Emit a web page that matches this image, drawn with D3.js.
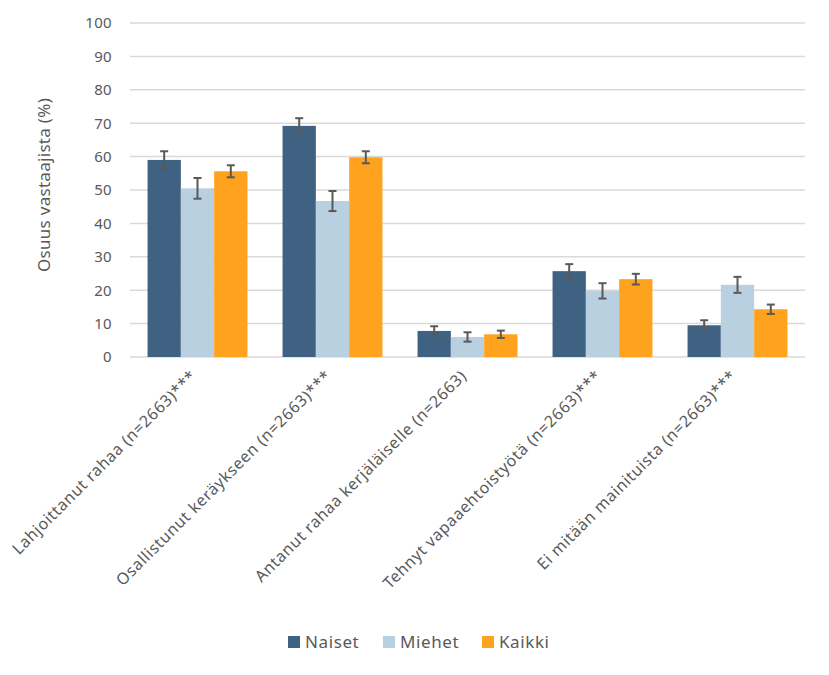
<!DOCTYPE html>
<html><head><meta charset="utf-8">
<script src="https://cdn.jsdelivr.net/npm/d3@7"></script>
<style>body{margin:0;background:#fff;} text{font-family:"Noto Sans",sans-serif;fill:#595959;}</style>
</head><body><svg id="c" width="829" height="675"></svg>
<script>
const categories = ["Lahjoittanut rahaa (n=2663)***","Osallistunut keräykseen (n=2663)***","Antanut rahaa kerjäläiselle (n=2663)","Tehnyt vapaaehtoistyötä (n=2663)***","Ei mitään mainituista (n=2663)***"];
const seriesNames = ["Naiset","Miehet","Kaikki"];
const naiset = [59.0, 69.2, 7.8, 25.7, 9.5];
const miehet = [50.5, 46.7, 6.0, 19.8, 21.6];
const kaikki = [55.6, 59.8, 6.8, 23.3, 14.3];
const naisetErr = [2.6, 2.3, 1.4, 2.1, 1.5];
const miehetErr = [3.1, 3.0, 1.4, 2.3, 2.4];
const kaikkiErr = [1.8, 1.8, 1.1, 1.6, 1.4];
const yTicks = [0,10,20,30,40,50,60,70,80,90,100];
const colors = ["#3F6182","#B8D0E0","#FFA31F"];

const values = [naiset, miehet, kaikki];
const errs = [naisetErr, miehetErr, kaikkiErr];
const svg = d3.select("#c");
const m = {l:130, r:24, t:23, b:318};
const W = 829, H = 675;
const x0 = d3.scaleBand().domain(categories).range([m.l, W-m.r]).paddingInner(0.26).paddingOuter(0.13);
const x1 = d3.scaleBand().domain(seriesNames).range([0, x0.bandwidth()]);
const y = d3.scaleLinear().domain([0,100]).range([H-m.b, m.t]);

const g = svg.append("g");
g.selectAll("line.grid").data(yTicks).join("line")
  .attr("x1", m.l).attr("x2", W-m.r)
  .attr("y1", d=>y(d)).attr("y2", d=>y(d))
  .attr("stroke","#d9d9d9").attr("stroke-width",1.5);

const yAxis = d3.axisLeft(y).tickValues(yTicks).tickSize(0).tickPadding(18);
const ya = svg.append("g").attr("transform",`translate(${m.l},0)`).call(yAxis);
ya.select(".domain").remove();
ya.selectAll("text").style("font-size","15px").style("letter-spacing","0.3px").attr("fill","#595959").style("font-family","'Noto Sans',sans-serif");

svg.append("text").attr("transform",`translate(50,${(y(0)+y(100))/2-5}) rotate(-90)`)
  .attr("text-anchor","middle").style("font-size","17px").style("letter-spacing","0.3px").text("Osuus vastaajista (%)");

seriesNames.forEach((s,si)=>{
  const gg = svg.append("g");
  gg.selectAll("rect").data(categories).join("rect")
    .attr("x", c=>x0(c)+x1(s)).attr("width", x1.bandwidth())
    .attr("y", (c,i)=>y(values[si][i])).attr("height",(c,i)=>y(0)-y(values[si][i]))
    .attr("fill", colors[si]);
});
seriesNames.forEach((s,si)=>{
  categories.forEach((c,i)=>{
    const cx = x0(c)+x1(s)+x1.bandwidth()/2;
    const hi = y(values[si][i]+errs[si][i]), lo = y(values[si][i]-errs[si][i]);
    const e = svg.append("g").attr("stroke","#595959").attr("stroke-width",2).attr("fill","none");
    e.append("line").attr("x1",cx).attr("x2",cx).attr("y1",hi).attr("y2",lo);
    e.append("line").attr("x1",cx-4).attr("x2",cx+4).attr("y1",hi).attr("y2",hi);
    e.append("line").attr("x1",cx-4).attr("x2",cx+4).attr("y1",lo).attr("y2",lo);
  });
});

const xAxis = d3.axisBottom(x0).tickSize(0).tickPadding(0);
const xa = svg.append("g").attr("transform",`translate(0,${y(0)})`).call(xAxis);
xa.select(".domain").remove();
xa.selectAll("text")
  .style("font-size","16px").style("letter-spacing","0.6px").style("font-family","'Noto Sans',sans-serif").attr("fill","#595959")
  .attr("text-anchor","end")
  .attr("transform","translate(-4,16) rotate(-45)")
  .attr("dy","0.35em").attr("y",0);

const leg = svg.append("g").attr("transform","translate(288,642)");
const legX = [0, 95, 194];
seriesNames.forEach((s,i)=>{
  leg.append("rect").attr("x",legX[i]).attr("y",-6).attr("width",12).attr("height",12).attr("fill",colors[i]);
  leg.append("text").attr("x",legX[i]+17).attr("y",0).attr("dy","0.35em").style("font-size","17px").style("letter-spacing","0.6px").text(s);
});
</script></body></html>
